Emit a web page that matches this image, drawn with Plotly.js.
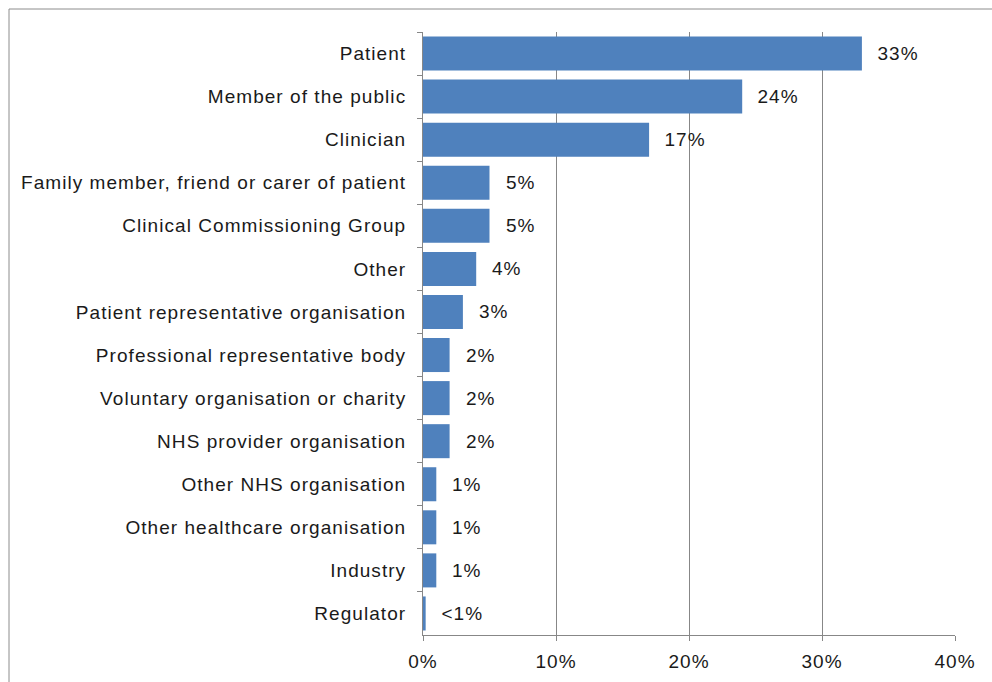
<!DOCTYPE html>
<html><head><meta charset="utf-8">
<script src="https://cdn.plot.ly/plotly-3.0.1.min.js"></script>
<style>body{margin:0;padding:0;background:#fff}#chart{width:992px;height:682px}
#chart text{letter-spacing:1.05px}</style>
</head><body><div id="chart"></div>
<script>
const categories = ["Patient","Member of the public","Clinician","Family member, friend or carer of patient","Clinical Commissioning Group","Other","Patient representative organisation","Professional representative body","Voluntary organisation or charity","NHS provider organisation","Other NHS organisation","Other healthcare organisation","Industry","Regulator"];
const values = [33,24,17,5,5,4,3,2,2,2,1,1,1,0.2];
const labels = ["33%","24%","17%","5%","5%","4%","3%","2%","2%","2%","1%","1%","1%","<1%"];
const xTicks = [0,10,20,30,40];
const xTickText = ["0%","10%","20%","30%","40%"];

const font = {family:"Liberation Sans, Arial, sans-serif", size:19, color:"#1a1a1a"};
const trace = {
  type:"bar", orientation:"h",
  x: values, y: categories,
  marker:{color:"#4F81BD"},
  hoverinfo:"none"
};
const annotations = categories.map((c,i)=>({
  x: values[i], y: c, xref:"x", yref:"y", text: labels[i], showarrow:false,
  xanchor:"left", yanchor:"middle", xshift:15, font: font
}));
const layout = {
  width:992, height:682,
  margin:{l:423, r:37, t:32, b:47, pad:0},
  paper_bgcolor:"#fff", plot_bgcolor:"#fff",
  showlegend:false,
  bargap:0.21,
  font: font,
  annotations: annotations,
  xaxis:{range:[0,40], tickvals:xTicks, ticktext:xTickText, showgrid:true, gridcolor:"#878787", gridwidth:1,
         showline:true, linecolor:"#878787", ticks:"outside", ticklen:5, tickcolor:"#878787", zeroline:false,
         tickfont:font, ticklabelstandoff:4, fixedrange:true},
  yaxis:{autorange:"reversed", type:"category", showline:true, linecolor:"#878787", ticks:"outside", ticklen:5,
         tickcolor:"#878787", tickson:"boundaries", tickfont:font, ticklabelstandoff:12, showgrid:false, zeroline:false},
  shapes:[{type:"rect", xref:"paper", yref:"paper", x0:(9-423)/532, x1:2, y0:-1, y1:(635-9)/603,
           line:{color:"#8c8c8c", width:1}, fillcolor:"rgba(0,0,0,0)", layer:"below"}]
};
Plotly.newPlot("chart",[trace],layout,{staticPlot:true});
</script></body></html>
